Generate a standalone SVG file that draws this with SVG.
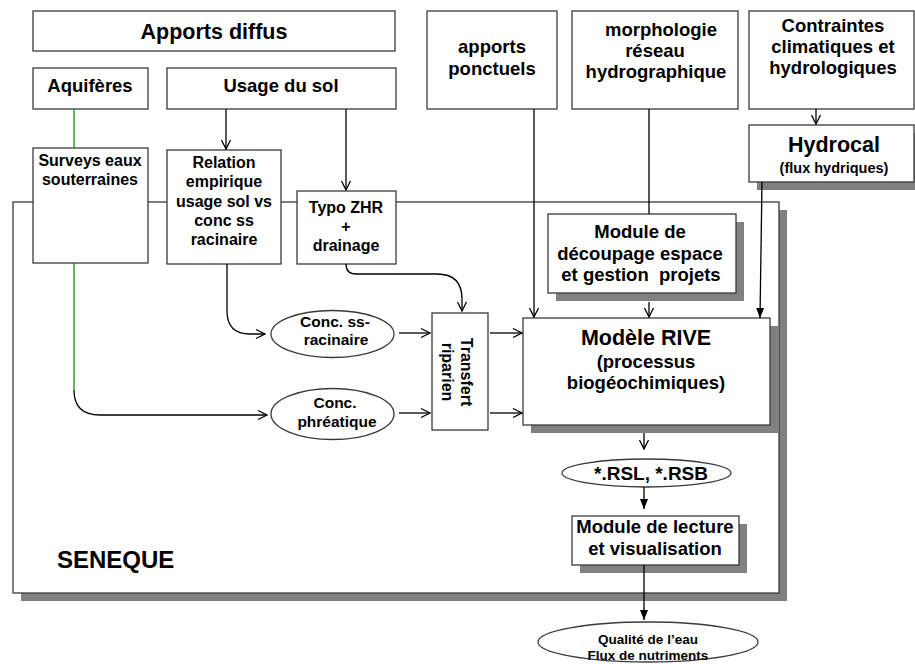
<svg xmlns="http://www.w3.org/2000/svg" width="915" height="664" viewBox="0 0 915 664">
<style>
text{font-family:"Liberation Sans",Arial,sans-serif;font-weight:bold;fill:#000;text-anchor:middle}
.box{fill:#fff;stroke:#3a3a3a;stroke-width:1.3}
.sh{fill:#808080}
.ln{fill:none;stroke:#000;stroke-width:1.3}
.gr{fill:none;stroke:#009900;stroke-width:1.3}
.f18{font-size:18.5px}
.f16{font-size:16px}
.f15{font-size:15.5px}
.f21{font-size:21.5px}
</style>
<defs>
<marker id="open" viewBox="0 0 12 12" refX="11" refY="6" markerWidth="12" markerHeight="12" markerUnits="userSpaceOnUse" orient="auto"><path d="M2,1.5 L11,6 L2,10.5" fill="none" stroke="#000" stroke-width="1.3"/></marker>
<marker id="fill" viewBox="0 0 12 12" refX="11" refY="6" markerWidth="12" markerHeight="12" markerUnits="userSpaceOnUse" orient="auto"><path d="M1,2 L11,6 L1,10 z" fill="#000"/></marker>
</defs>
<rect width="915" height="664" fill="#fff"/>

<g id="seneque">
<rect class="sh" x="21" y="210" width="766" height="391"/>
<rect x="13" y="202" width="766" height="391" fill="#fff" stroke="#3a3a3a" stroke-width="1.3"/>
<text x="57" y="568" style="font-size:24px;text-anchor:start">SENEQUE</text>
</g>

<g id="apports-diffus"><rect class="box" x="33" y="11" width="362" height="40"/><text class="f21" x="214" y="39">Apports diffus</text></g>
<g id="aquiferes"><rect class="box" x="33" y="68" width="115" height="41"/><text class="f18" x="90" y="92">Aquifères</text></g>
<g id="usage-sol"><rect class="box" x="167" y="68" width="229" height="41"/><text class="f18" x="281" y="92">Usage du sol</text></g>
<g id="apports-ponctuels"><rect class="box" x="427" y="11" width="130" height="98"/><text class="f18" x="492" y="53">apports</text><text class="f18" x="492" y="75">ponctuels</text></g>
<g id="morphologie"><rect class="box" x="572" y="11" width="166" height="98"/><text class="f18" x="661" y="36">morphologie</text><text class="f18" x="655" y="57">réseau</text><text class="f18" x="656" y="78">hydrographique</text></g>
<g id="contraintes"><rect class="box" x="749" y="11" width="165" height="98"/><text class="f18" x="833" y="32">Contraintes</text><text class="f18" x="833" y="53">climatiques et</text><text class="f18" x="833" y="74">hydrologiques</text></g>
<g id="hydrocal"><rect class="sh" x="757" y="133" width="165" height="57"/><rect class="box" x="749" y="125" width="165" height="57"/><text class="f21" x="834" y="152">Hydrocal</text><text x="834" y="173" style="font-size:14.5px">(flux hydriques)</text></g>

<g id="surveys"><rect class="box" x="33" y="148" width="115" height="115"/><text class="f16" x="90" y="166">Surveys eaux</text><text class="f16" x="90" y="185">souterraines</text></g>
<g id="relation"><rect class="box" x="167" y="150" width="114" height="114"/><text class="f16" x="224" y="168">Relation</text><text class="f16" x="224" y="187">empirique</text><text class="f16" x="224" y="207">usage sol vs</text><text class="f16" x="224" y="226">conc ss</text><text class="f16" x="224" y="245">racinaire</text></g>
<g id="typo"><rect class="box" x="297" y="191" width="99" height="73"/><text class="f16" x="346" y="213">Typo ZHR</text><text class="f16" x="346" y="232">+</text><text class="f16" x="346" y="251">drainage</text></g>

<g id="decoupage"><rect class="sh" x="556" y="222" width="188" height="79"/><rect class="box" x="548" y="214" width="188" height="79"/><text class="f18" x="640" y="238">Module de</text><text class="f18" x="640" y="260">découpage espace</text><text class="f18" x="641" y="281" xml:space="preserve">et gestion  projets</text></g>

<g id="conc-ss"><ellipse class="box" cx="332.5" cy="334" rx="61.5" ry="23.5"/><text class="f15" x="335" y="327">Conc. ss-</text><text class="f15" x="336" y="345">racinaire</text></g>
<g id="conc-phreatique"><ellipse class="box" cx="332.5" cy="414" rx="61.5" ry="25.5"/><text class="f15" x="335" y="408">Conc.</text><text class="f15" x="337" y="427">phréatique</text></g>

<g id="transfert"><rect class="box" x="432" y="313" width="56" height="117"/><text class="f16" transform="translate(461,372) rotate(90)">Transfert</text><text class="f16" transform="translate(442,372) rotate(90)">riparien</text></g>

<g id="rive"><rect class="sh" x="531" y="326" width="247" height="107"/><rect class="box" x="523" y="318" width="247" height="107"/><text class="f21" x="646" y="345">Modèle RIVE</text><text class="f18" x="646" y="368">(processus</text><text class="f18" x="646" y="389">biogéochimiques)</text></g>

<g id="rsl"><ellipse class="box" cx="646.5" cy="473" rx="84.5" ry="14"/><text x="651" y="480" style="font-size:19px">*.RSL, *.RSB</text></g>
<g id="lecture"><rect class="sh" x="580" y="524" width="167" height="49"/><rect class="box" x="572" y="516" width="167" height="49"/><text class="f18" x="655" y="533">Module de lecture</text><text class="f18" x="655" y="555">et visualisation</text></g>
<g id="qualite"><ellipse class="box" cx="648" cy="642" rx="110" ry="20"/><text x="648" y="644" style="font-size:13.5px">Qualité de l’eau</text><text x="648" y="660" style="font-size:13.5px">Flux de nutriments</text></g>

<g id="connectors">
<path class="gr" d="M74,109 V148"/>
<path class="gr" d="M74,263 V390"/>
<path class="ln" d="M74,390 Q74,415 100,415 H267" marker-end="url(#open)"/>
<path class="ln" d="M226,109 V149" marker-end="url(#open)"/>
<path class="ln" d="M346,109 V190" marker-end="url(#open)"/>
<path class="ln" d="M227,264 V311 Q227,334 250,334 H265" marker-end="url(#open)"/>
<path class="ln" d="M346,264 Q346,274 356,274 H437 Q462,274 462,299 V311" marker-end="url(#open)"/>
<path class="ln" d="M399,333 H430" marker-end="url(#open)"/>
<path class="ln" d="M399,413 H430" marker-end="url(#open)"/>
<path class="ln" d="M490,333 H522" marker-end="url(#open)"/>
<path class="ln" d="M490,413 H522" marker-end="url(#open)"/>
<path class="ln" d="M534,109 V317" marker-end="url(#open)"/>
<path class="ln" d="M649,109 V214"/>
<path class="ln" d="M649,302 V317" marker-end="url(#open)"/>
<path class="ln" d="M816,109 V124" marker-end="url(#open)"/>
<path class="ln" d="M762,182 L760,318" marker-end="url(#fill)"/>
<path class="ln" d="M644,433 V449" marker-end="url(#open)"/>
<path class="ln" d="M644,487 V509" marker-end="url(#fill)"/>
<path class="ln" d="M644,565 V620" marker-end="url(#fill)"/>
</g>
</svg>
